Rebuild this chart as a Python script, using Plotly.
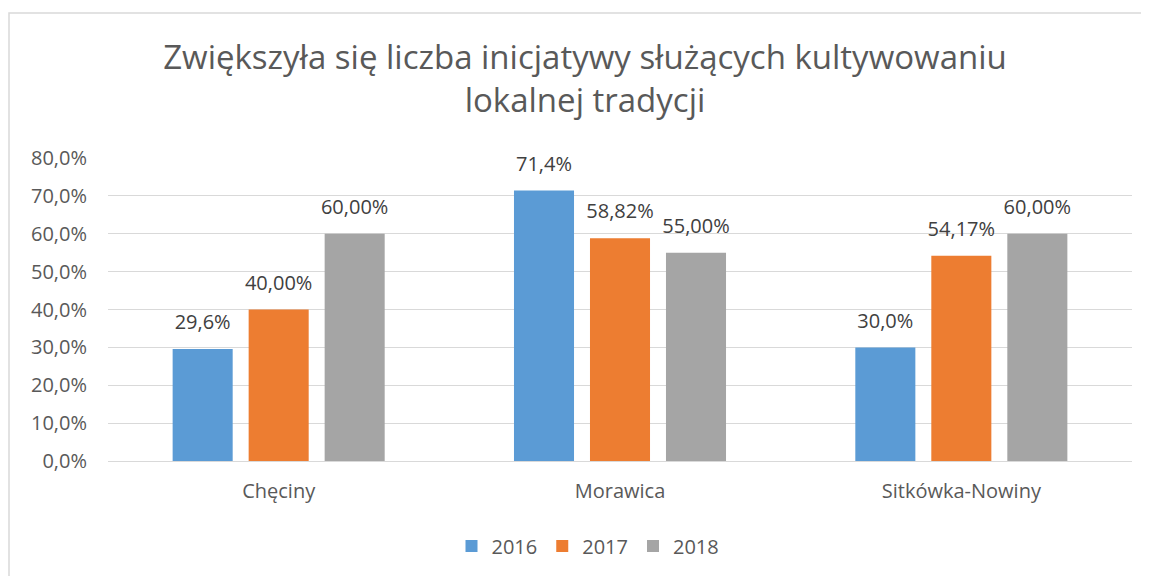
import plotly.graph_objects as go

categories = ["Chęciny", "Morawica", "Sitkówka-Nowiny"]
years = ["2016", "2017", "2018"]
values_2016 = [29.6, 71.4, 30.0]
values_2017 = [40.00, 58.82, 54.17]
values_2018 = [60.00, 55.00, 60.00]
label_decimals = {"2016": 1, "2017": 2, "2018": 2}
colors = {"2016": "#5B9BD5", "2017": "#ED7D31", "2018": "#A5A5A5"}
y_ticks = [0, 10, 20, 30, 40, 50, 60, 70, 80]
y_tick_labels = ["0,0%", "10,0%", "20,0%", "30,0%", "40,0%", "50,0%", "60,0%", "70,0%", "80,0%"]

series = {"2016": values_2016, "2017": values_2017, "2018": values_2018}

FONT = "Open Sans"
fig = go.Figure()
for yr in years:
    vals = series[yr]
    fig.add_trace(go.Bar(
        name=yr, x=categories, y=vals, offsetgroup=yr,
        marker=dict(color=colors[yr], line=dict(width=0)),
    ))
for yr in years:
    vals = series[yr]
    d = label_decimals[yr]
    text = [f"{v:.{d}f}".replace(".", ",") + "%" for v in vals]
    fig.add_trace(go.Scatter(
        x=categories, y=vals, text=text, mode="markers+text", offsetgroup=yr,
        textposition="top center", showlegend=False, hoverinfo="skip",
        marker=dict(size=22, color="rgba(0,0,0,0)"),
        textfont=dict(family=FONT, size=20, color="#404040"), cliponaxis=False,
    ))

W, H = 1141, 568
L, R, T, B = 100, 17, 150, 115
pw, ph = W - L - R, H - T - B

fig.update_layout(
    width=W, height=H,
    margin=dict(l=L, r=R, t=T, b=B),
    paper_bgcolor="white", plot_bgcolor="white",
    barmode="group", scattermode="group", bargap=0.332, bargroupgap=0.21,
    title=dict(
        text="Zwiększyła się liczba inicjatywy służących kultywowaniu<br>lokalnej tradycji",
        x=577 / W, xanchor="center", xref="container",
        y=1 - 61 / H, yanchor="top", yref="container",
        font=dict(family=FONT, size=33, color="#595959"),
    ),
    font=dict(family=FONT, color="#595959"),
    xaxis=dict(
        showgrid=False, showline=False, ticks="",
        tickfont=dict(family=FONT, size=20, color="#595959"),
        ticklabelstandoff=16,
    ),
    yaxis=dict(
        range=[0, 80], tickvals=y_ticks, ticktext=y_tick_labels,
        showgrid=True, gridcolor="#D9D9D9", gridwidth=1,
        zeroline=True, zerolinecolor="#D9D9D9", zerolinewidth=1,
        showline=False, ticks="",
        tickfont=dict(family=FONT, size=20, color="#595959"),
        ticklabelstandoff=20,
    ),
    legend=dict(
        orientation="h", x=580 / W, xanchor="center", xref="container",
        y=1 - 538 / H, yanchor="middle", yref="container",
        font=dict(family=FONT, size=20, color="#595959"),
        itemwidth=30, traceorder="normal",
    ),
    showlegend=True,
    shapes=[dict(
        type="rect", xref="paper", yref="paper",
        x0=(1 - L) / pw, x1=2, y0=-1, y1=1 + (T - 5) / ph,
        line=dict(color="#D9D9D9", width=1.5), fillcolor="rgba(0,0,0,0)", layer="below",
    )],
)

fig.write_html("out.html")
